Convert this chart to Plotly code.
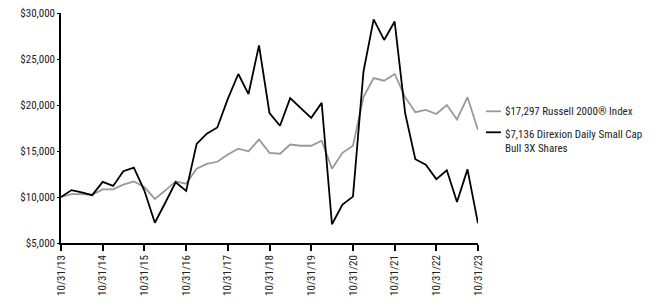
import plotly.graph_objects as go
import pandas as pd

dates = pd.date_range("2013-10-31", "2023-10-31", freq="3ME")
dates = [d.strftime("%Y-%m-%d") for d in pd.date_range("2013-10-01", periods=41, freq="3MS") + pd.offsets.MonthEnd(0)]

fund = [10000, 10750, 10500, 10200, 11650, 11200, 12800, 13200, 10700, 7200,
        9350, 11600, 10660, 15770, 16880, 17560, 20670, 23370, 21190, 26480,
        19120, 17740, 20750, 19640, 18600, 20230, 7040, 9170, 10040, 23620,
        29310, 27070, 29070, 19120, 14110, 13520, 11940, 12900, 9450, 13000, 7136]
index = [10000, 10310, 10310, 10230, 10830, 10830, 11350, 11700, 11080, 9790,
         10700, 11700, 11450, 13080, 13600, 13830, 14630, 15250, 14970, 16260,
         14800, 14700, 15700, 15570, 15570, 16110, 13080, 14800, 15570, 20850,
         22920, 22640, 23370, 20850, 19220, 19470, 19020, 19990, 18430, 20850, 17297]

tick_dates = [f"{y}-10-31" for y in range(2013, 2024)]
tick_labels = [f"10/31/{y % 100:02d}" for y in range(2013, 2024)]
y_ticks = [5000, 10000, 15000, 20000, 25000, 30000]
y_labels = [f"${v:,}" for v in y_ticks]
legend_labels = ["$17,297 Russell 2000® Index", "$7,136 Direxion Daily Small Cap<br>Bull 3X Shares"]

FONT = "Liberation Sans Narrow, Roboto Condensed, Arial Narrow, sans-serif"

fig = go.Figure()
fig.add_trace(go.Scatter(x=dates, y=index, mode="lines", line=dict(color="#999999", width=1.8),
                         showlegend=False))
fig.add_trace(go.Scatter(x=dates, y=fund, mode="lines", line=dict(color="#000000", width=1.8),
                         showlegend=False))

fig.update_layout(
    width=671, height=303,
    margin=dict(l=61, r=193, t=7, b=55),
    plot_bgcolor="white", paper_bgcolor="white",
    font=dict(family=FONT, size=11, color="#222222"),
    xaxis=dict(type="date", range=["2013-10-31", "2023-10-31"], tickvals=tick_dates,
               ticktext=tick_labels, tickangle=-90, showgrid=False, zeroline=False,
               showline=True, linecolor="black", linewidth=1.5, ticks="outside",
               ticklen=6, tickwidth=1.5, tickcolor="black",
               tickfont=dict(family=FONT, size=11, color="#222222")),
    yaxis=dict(range=[5000, 30000], tickvals=y_ticks, ticktext=y_labels, showgrid=False,
               zeroline=False, showline=True, linecolor="black", linewidth=1.5,
               ticks="outside", ticklen=2, tickwidth=1, tickcolor="black",
               tickfont=dict(family=FONT, size=11, color="#222222")),
)

# legend drawn manually
leg_x0 = 1.019
seg = 0.036
fig.add_shape(type="line", xref="paper", yref="paper", x0=leg_x0, x1=leg_x0 + seg,
              y0=(248 - 110) / 241, y1=(248 - 110) / 241, line=dict(color="#999999", width=1.8))
fig.add_shape(type="line", xref="paper", yref="paper", x0=leg_x0, x1=leg_x0 + seg,
              y0=(248 - 132) / 241, y1=(248 - 132) / 241, line=dict(color="#000000", width=1.8))
fig.add_annotation(xref="paper", yref="paper", x=leg_x0 + seg + 0.004, y=(248 - 110) / 241,
                   text=legend_labels[0], showarrow=False, xanchor="left", yanchor="middle",
                   align="left", font=dict(family=FONT, size=11, color="#222222"))
fig.add_annotation(xref="paper", yref="paper", x=leg_x0 + seg + 0.004, y=(248 - 125) / 241,
                   text=legend_labels[1], showarrow=False, xanchor="left", yanchor="top",
                   align="left", font=dict(family=FONT, size=11, color="#222222"))

fig.write_html("out.html")
